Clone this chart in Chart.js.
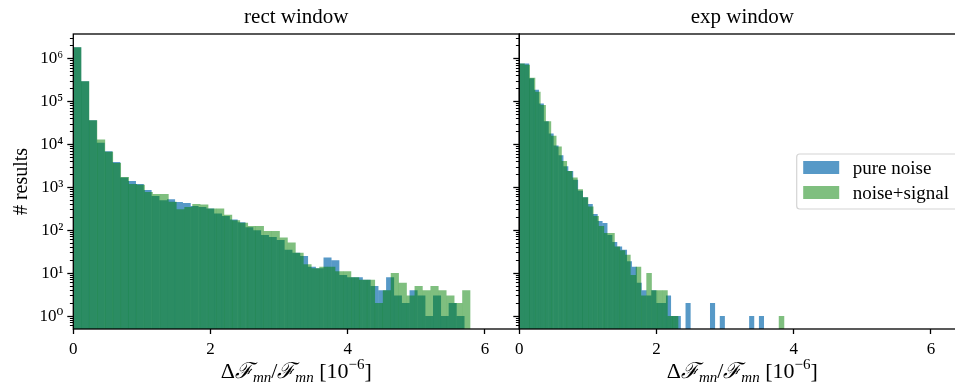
<!DOCTYPE html>
<html>
<head>
<meta charset="utf-8">
<script src="https://cdn.jsdelivr.net/npm/chart.js@4.4.1/dist/chart.umd.min.js"></script>
<style>
html, body { margin: 0; padding: 0; background: #fff; overflow: hidden; }
#quadro { position: relative; width: 955px; height: 387px; overflow: hidden; }
#esq { position: absolute; left: 0; top: 0; }
#dir { position: absolute; left: 505px; top: 0; }
</style>
</head>
<body>
<div id="quadro">
    <canvas id="esq" width="520" height="387"></canvas>
    <canvas id="dir" width="470" height="387"></canvas>
</div>
<script>
// contagens por bin (50 bins em cada histograma)
var rectNoise = [1.86e6, 3.0e5, 3.7e4, 1.1e4, 7000, 3900, 1700, 1400, 1200, 870,
    630, 500, 530, 455, 430, 370, 350, 320, 245, 214,
    178, 153, 117, 100, 77, 70, 59, 35, 30, 25,
    14, 13, 23, 20, 9, 8, 8, 7, 5, 4,
    8, 3, 2, 4, 3, 1, 3, 1, 2, 1];
var rectSignal = [1.86e6, 3.0e5, 3.7e4, 1.3e4, 6800, 3700, 1740, 1200, 1150, 780,
    700, 700, 460, 310, 350, 410, 400, 323, 323, 230,
    170, 150, 126, 126, 96, 96, 68, 52, 30, 16,
    13, 14, 14, 11, 11, 8, 7, 7, 2, 4,
    10, 6, 3, 5, 4, 5, 4, 3, 2, 4];
var expNoise = [7.8e5, 7.8e5, 3.5e5, 1.9e5, 9.1e4, 3.5e4, 1.8e4, 9500, 5600, 3100,
    2400, 1500, 830, 590, 410, 240, 165, 147, 77, 53,
    42, 35, 19, 14, 6, 4, 3, 4, 2, 2,
    3, 1, 1, 0, 2, 0, 0, 0, 0, 2,
    0, 1, 0, 0, 0, 0, 0, 1, 0, 1];
var expSignal = [7.8e5, 7.2e5, 3.6e5, 1.7e5, 8.3e4, 3.5e4, 1.6e4, 9000, 4100, 2400,
    1700, 910, 590, 360, 215, 125, 86, 86, 42, 34,
    27, 9, 14, 3, 10, 4, 4, 4, 1, 1,
    0, 0, 0, 0, 0, 0, 0, 0, 0, 0,
    0, 0, 0, 0, 0, 0, 0, 0, 0, 1];

// largura dos bins (unidades de 10^-6)
var rectNoiseBin = 0.114;
var rectSignalBin = 0.1157;
var expNoiseBin = 0.0713;
var expSignalBin = 0.0772;

var xTicks = [0, 2, 4, 6];
var yMajorTicks = [1, 10, 100, 1000, 10000, 100000, 1000000];
var yTickLabels = ["10⁰", "10¹", "10²", "10³", "10⁴", "10⁵", "10⁶"];
var seriesLabels = ["pure noise", "noise+signal"];
var panelTitles = ["rect window", "exp window"];

var AZUL = "rgba(31, 119, 180, 0.75)";
var VERDE = "rgba(0, 128, 0, 0.5)";
var FONTE = "'Liberation Serif', 'DejaVu Serif', serif";
var Y_MIN = 0.5, Y_MAX = 3.8e6, X_MAX = 6.5;

Chart.defaults.font.family = FONTE;
Chart.defaults.color = "#000";

function pontosHist(contagens, largura) {
    return contagens.map(function (c, i) {
        return { x: (i + 0.5) * largura, y: c > 0 ? c : null };
    });
}

function listaTicksY() {
    var lista = [];
    for (var e = -1; e <= 6; e++) {
        for (var k = 1; k <= 9; k++) {
            var v = k * Math.pow(10, e);
            if (v > Y_MIN && v < Y_MAX) lista.push({ value: v, major: k === 1 });
        }
    }
    return lista;
}

function eixoY(comRotulos, largura) {
    var eixo = {
        type: "logarithmic",
        min: Y_MIN,
        max: Y_MAX,
        afterBuildTicks: function (s) { s.ticks = listaTicksY(); },
        afterFit: function (s) { s.width = largura; },
        border: { display: false },
        grid: {
            drawOnChartArea: false,
            tickLength: 6,
            tickColor: "#000",
            tickWidth: function (c) { return c.tick && c.tick.major ? 1.3 : 1.0; },
            tickBorderDash: function (c) { return c.tick && c.tick.major ? [] : [3.4, 2.6]; },
            tickBorderDashOffset: function (c) { return c.tick && c.tick.major ? 0 : 3.4; }
        },
        ticks: {
            autoSkip: false,
            padding: 4,
            font: { family: FONTE, size: 17 },
            callback: function (v) {
                var i = yMajorTicks.indexOf(v);
                return comRotulos && i >= 0 ? yTickLabels[i] : "";
            }
        }
    };
    if (comRotulos) {
        eixo.title = {
            display: true,
            text: "# results",
            font: { family: FONTE, size: 20 },
            padding: { top: 10, bottom: 0 }
        };
    }
    return eixo;
}

function eixoX(visivel) {
    var eixo = {
        type: "linear",
        min: 0,
        max: X_MAX,
        offset: false,
        display: visivel,
        afterBuildTicks: function (s) {
            s.ticks = xTicks.map(function (v) { return { value: v }; });
        },
        border: { display: false },
        grid: { drawOnChartArea: false, offset: false, tickLength: 5, tickColor: "#000", tickWidth: 1.3 },
        ticks: { autoSkip: false, maxRotation: 0, padding: 5, font: { family: FONTE, size: 17 } }
    };
    if (visivel) eixo.afterFit = function (s) { s.height = 58; };
    return eixo;
}

function datasets(noise, noiseBin, signal, signalBin) {
    return [{
        label: seriesLabels[0],
        data: pontosHist(noise, noiseBin),
        xAxisID: "x",
        backgroundColor: AZUL,
        borderWidth: 0,
        inflateAmount: 0.1,
        barPercentage: 1,
        categoryPercentage: 1,
        grouped: false,
        order: 1
    }, {
        label: seriesLabels[1],
        data: pontosHist(signal, signalBin),
        xAxisID: "x2",
        backgroundColor: VERDE,
        borderWidth: 0,
        inflateAmount: 0.1,
        barPercentage: 1,
        categoryPercentage: 1,
        grouped: false,
        order: 0
    }];
}

// moldura, título do painel e rótulo do eixo x
var plugPainel = {
    id: "painel",
    afterDatasetsDraw: function (chart) {
        var a = chart.chartArea, ctx = chart.ctx;
        ctx.save();
        ctx.strokeStyle = "#000";
        ctx.lineWidth = 1.3;
        ctx.strokeRect(a.left, a.top, a.right - a.left, a.bottom - a.top);
        ctx.restore();
    },
    afterDraw: function (chart, args, opts) {
        var a = chart.chartArea, ctx = chart.ctx;
        var cx = (a.left + a.right) / 2;
        ctx.save();
        ctx.fillStyle = "#000";
        ctx.textBaseline = "alphabetic";
        ctx.textAlign = "center";
        ctx.font = "21px " + FONTE;
        ctx.fillText(opts.titulo, cx, 23);

        var partes = [
            { t: "Δ", f: "22px " + FONTE, dy: 0 },
            { t: "ℱ", f: "italic 22px " + FONTE, dy: 0 },
            { t: "mn", f: "italic 15px " + FONTE, dy: 4 },
            { t: "/", f: "22px " + FONTE, dy: 0 },
            { t: "ℱ", f: "italic 22px " + FONTE, dy: 0 },
            { t: "mn", f: "italic 15px " + FONTE, dy: 4 },
            { t: " [10", f: "22px " + FONTE, dy: 0 },
            { t: "−6", f: "15px " + FONTE, dy: -9 },
            { t: "]", f: "22px " + FONTE, dy: 0 }
        ];
        ctx.textAlign = "left";
        var total = 0;
        partes.forEach(function (p) { ctx.font = p.f; p.w = ctx.measureText(p.t).width; total += p.w; });
        var x = cx - total / 2;
        partes.forEach(function (p) {
            ctx.font = p.f;
            ctx.fillText(p.t, x, 378 + p.dy);
            x += p.w;
        });
        ctx.restore();
    }
};

var plugLegenda = {
    id: "legenda",
    afterDraw: function (chart) {
        var ctx = chart.ctx, ds = chart.data.datasets;
        var x0 = 291.7, y0 = 154, w = 168, h = 55;
        ctx.save();
        ctx.fillStyle = "rgba(255,255,255,0.8)";
        ctx.strokeStyle = "#d4d4d4";
        ctx.lineWidth = 1.2;
        ctx.beginPath();
        ctx.roundRect(x0, y0, w, h, 3);
        ctx.fill();
        ctx.stroke();
        ctx.font = "19px " + FONTE;
        ctx.textBaseline = "alphabetic";
        ds.forEach(function (d, i) {
            var y = y0 + 7 + i * 25;
            ctx.fillStyle = d.backgroundColor;
            ctx.fillRect(x0 + 6.5, y, 36, 13);
            ctx.fillStyle = "#000";
            ctx.fillText(d.label, x0 + 56, y + 12.5);
        });
        ctx.restore();
    }
};

function opcoes(titulo, larguraY, comRotulos, padDireita) {
    return {
        responsive: false,
        animation: false,
        events: [],
        layout: { padding: { top: 34, left: 0, right: padDireita, bottom: 0 } },
        plugins: {
            legend: { display: false },
            tooltip: { enabled: false },
            painel: { titulo: titulo }
        },
        scales: {
            x: eixoX(true),
            x2: eixoX(false),
            y: eixoY(comRotulos, larguraY)
        }
    };
}

new Chart(document.getElementById("esq"), {
    type: "bar",
    data: { datasets: datasets(rectNoise, rectNoiseBin, rectSignal, rectSignalBin) },
    options: opcoes(panelTitles[0], 73.3, true, 0.7),
    plugins: [plugPainel]
});

new Chart(document.getElementById("dir"), {
    type: "bar",
    data: { datasets: datasets(expNoise, expNoiseBin, expSignal, expSignalBin) },
    options: opcoes(panelTitles[1], 14.3, false, 9.7),
    plugins: [plugPainel, plugLegenda]
});
</script>
</body>
</html>
